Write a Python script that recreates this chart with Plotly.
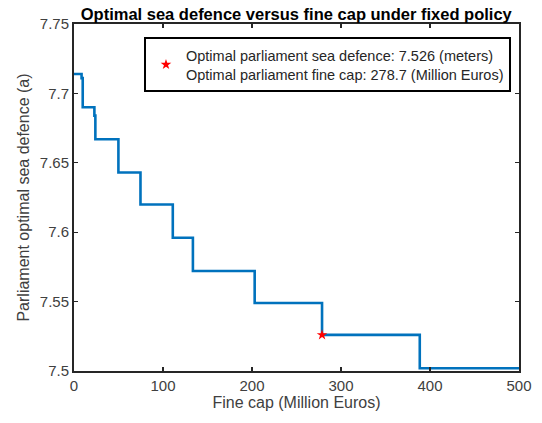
import plotly.graph_objects as go

# Step breakpoints (fine cap, Million Euros) and the level held from each breakpoint
fine_cap = [0, 8.5, 9.8, 22.9, 24.0, 49.9, 74.7, 111.0, 133.6, 203.0, 278.7, 388.5, 500]
sea_def = [7.714, 7.711, 7.690, 7.684, 7.667, 7.643, 7.620, 7.596, 7.572, 7.549, 7.526, 7.502, 7.502]

opt_cap = [278.7]
opt_def = [7.526]

x_ticks = [0, 100, 200, 300, 400, 500]
y_ticks = [7.5, 7.55, 7.6, 7.65, 7.7, 7.75]

FONT = "Liberation Sans, Arial, sans-serif"
AX = "#262626"

fig = go.Figure()
fig.add_trace(go.Scatter(
    x=fine_cap, y=sea_def, mode="lines", line_shape="hv",
    line=dict(color="#0072BD", width=2.6), showlegend=False, hoverinfo="skip"))
fig.add_trace(go.Scatter(
    x=opt_cap, y=opt_def, mode="markers",
    marker=dict(symbol="star", color="#FF0000", size=8, line=dict(width=0)),
    name="Optimal parliament sea defence: 7.526 (meters)<br>Optimal parliament fine cap: 278.7 (Million Euros)"))

axis_common = dict(
    showgrid=False, zeroline=False, showline=True, linecolor=AX, linewidth=2,
    mirror="ticks", ticks="inside", ticklen=4, tickwidth=1.2, tickcolor=AX,
    automargin=False,
    tickfont=dict(family=FONT, size=15, color="#404040"),
)

fig.update_layout(
    width=542, height=423,
    margin=dict(l=74, r=23, t=24, b=52),
    paper_bgcolor="white", plot_bgcolor="white",
    title=dict(text="<b>Optimal sea defence versus fine cap under fixed policy</b>",
               font=dict(family=FONT, size=16.5, color="#000000"),
               x=(74 + 518.5) / 2 / 542, xanchor="center", y=1 - 14 / 423, yanchor="middle"),
    xaxis=dict(range=[0, 500], tickvals=x_ticks,
               title=dict(text="Fine cap (Million Euros)", standoff=2,
                          font=dict(family=FONT, size=16, color="#404040")),
               **axis_common),
    yaxis=dict(range=[7.5, 7.75], tickvals=y_ticks,
               ticktext=[f"{v:g}" for v in y_ticks],
               title=dict(text="Parliament optimal sea defence (a)", standoff=6,
                          font=dict(family=FONT, size=16, color="#404040")),
               **axis_common),
    legend=dict(x=0.982, xanchor="right", y=0.962, yanchor="top",
                bgcolor="white", bordercolor="#000000", borderwidth=2,
                font=dict(family=FONT, size=14.5, color="#262626")),
)

fig.write_html("out.html",
               config={"displayModeBar": False, "staticPlot": True},
               post_script="document.body.style.margin='0';document.body.style.padding='0';")
